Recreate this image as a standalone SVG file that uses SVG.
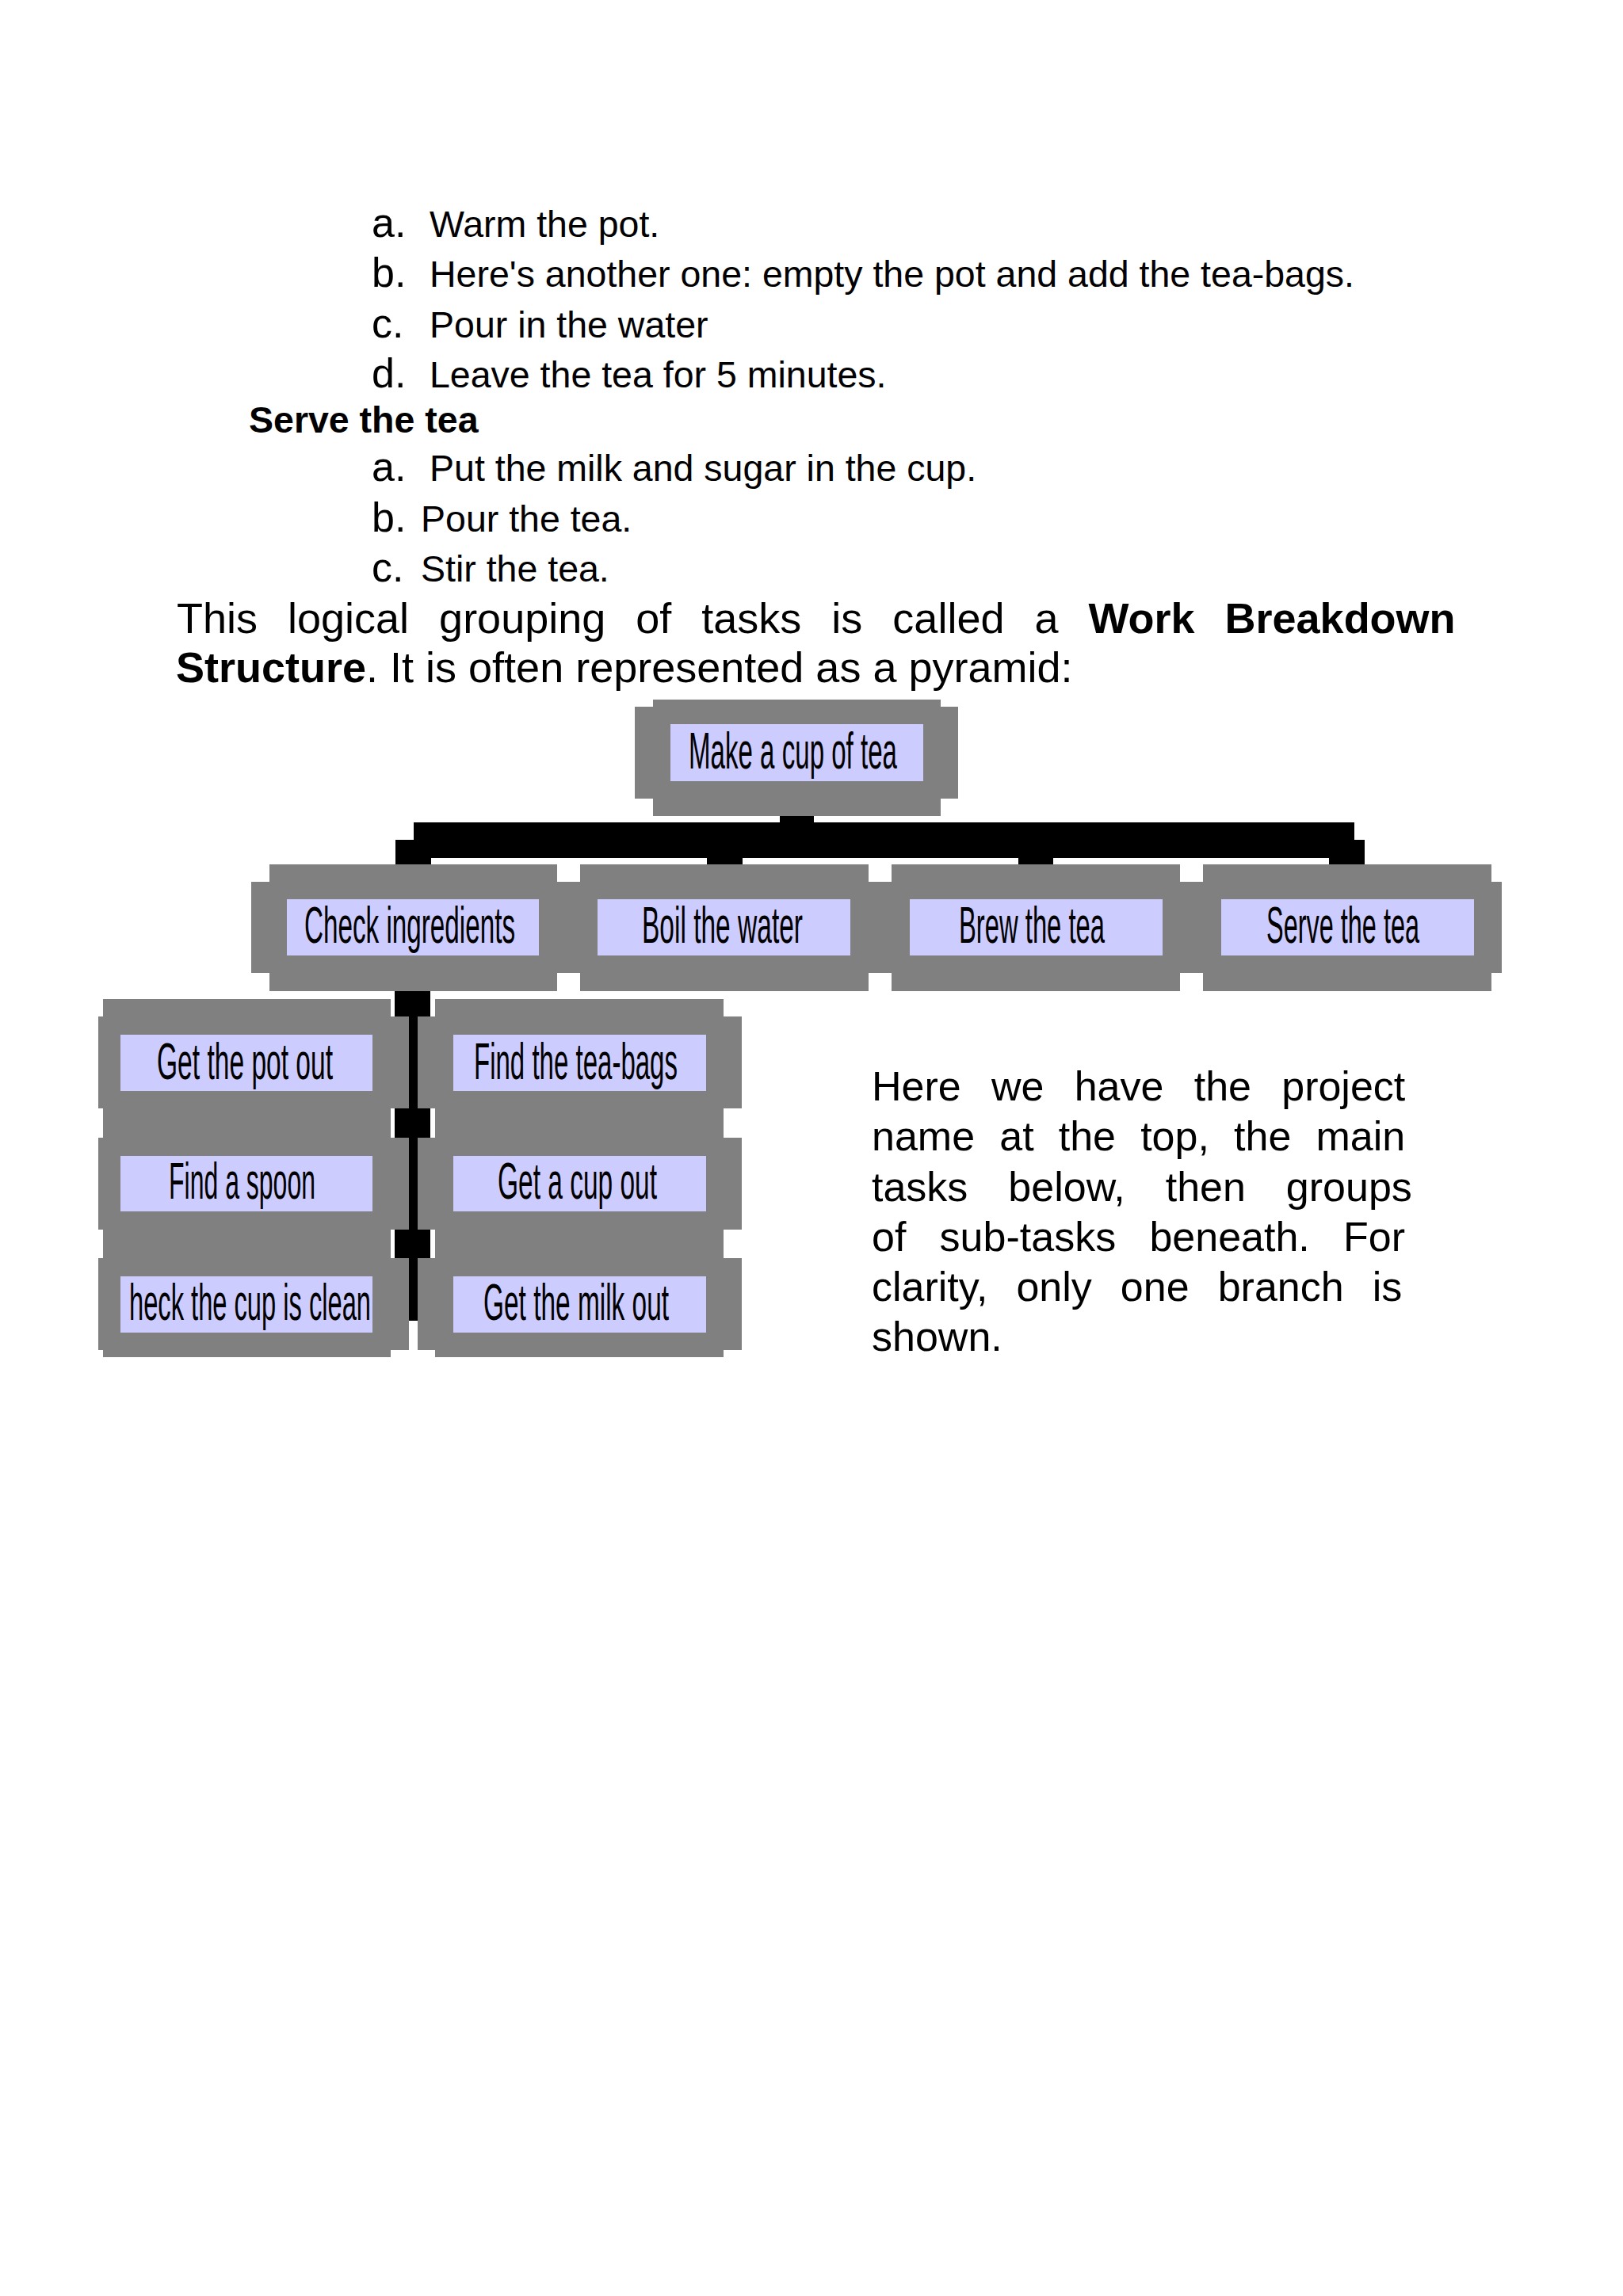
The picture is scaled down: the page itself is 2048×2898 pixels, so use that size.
<svg xmlns="http://www.w3.org/2000/svg" width="2048" height="2898" viewBox="0 0 2048 2898">
<style>
.t{font-family:"Liberation Sans",Arial,sans-serif;font-size:46.5px;fill:#000}
.m{font-family:"Liberation Sans",Arial,sans-serif;font-size:52px;fill:#000}
.p{font-family:"Liberation Sans",Arial,sans-serif;font-size:54px;fill:#000}
.b{font-weight:bold}
.g{fill:#808080}
.l{fill:#ccccff}
.n{font-family:"Liberation Sans Narrow","Liberation Sans",sans-serif;font-size:64px;fill:#000}
.c{fill:#000}
</style>
<rect width="2048" height="2898" fill="#fff"/>
<g id="text">
<text class="m" x="469" y="299">a.</text><text class="t" x="542" y="299">Warm the pot.</text>
<text class="m" x="469" y="362">b.</text><text class="t" x="542" y="362">Here's another one: empty the pot and add the tea-bags.</text>
<text class="m" x="469" y="426">c.</text><text class="t" x="542" y="426">Pour in the water</text>
<text class="m" x="469" y="489">d.</text><text class="t" x="542" y="489">Leave the tea for 5 minutes.</text>
<text class="t b" x="314" y="546">Serve the tea</text>
<text class="m" x="469" y="607">a.</text><text class="t" x="542" y="607">Put the milk and sugar in the cup.</text>
<text class="m" x="469" y="671">b.</text><text class="t" x="531" y="671">Pour the tea.</text>
<text class="m" x="469" y="734">c.</text><text class="t" x="531" y="734">Stir the tea.</text>
<text class="p" x="223" y="799" word-spacing="23">This logical grouping of tasks is called a <tspan class="b">Work Breakdown</tspan></text>
<text class="p" x="222" y="861"><tspan class="b">Structure</tspan>. It is often represented as a pyramid:</text>
</g>
<g id="connectors">
<rect class="c" x="984" y="1030" width="43" height="10"/>
<rect class="c" x="522" y="1038" width="1187" height="45"/>
<rect class="c" x="499" y="1060" width="45" height="31"/>
<rect class="c" x="892" y="1060" width="45" height="31"/>
<rect class="c" x="1285" y="1060" width="44" height="31"/>
<rect class="c" x="1677" y="1060" width="45" height="31"/>
<rect class="c" x="498" y="1250" width="45" height="33"/>
<rect class="c" x="516" y="1250" width="11" height="417"/>
<rect class="c" x="498" y="1399" width="45" height="37"/>
<rect class="c" x="498" y="1552" width="45" height="36"/>
</g>
<g id="n-top">
<rect class="g" x="824" y="883" width="363" height="147"/><rect class="g" x="801" y="892" width="408" height="116"/>
<rect class="l" x="846" y="914" width="319" height="72"/>
<text class="n" x="869" y="970" textLength="263" lengthAdjust="spacingAndGlyphs">Make a cup of tea</text>
</g>
<g id="n-check">
<rect class="g" x="340" y="1091" width="363" height="160"/><rect class="g" x="317" y="1113" width="409" height="115"/>
<rect class="l" x="362" y="1135" width="318" height="71"/>
<text class="n" x="384" y="1190" textLength="266" lengthAdjust="spacingAndGlyphs">Check ingredients</text>
</g>
<g id="n-boil">
<rect class="g" x="732" y="1091" width="364" height="160"/><rect class="g" x="709" y="1113" width="410" height="115"/>
<rect class="l" x="754" y="1135" width="319" height="71"/>
<text class="n" x="810" y="1190" textLength="203" lengthAdjust="spacingAndGlyphs">Boil the water</text>
</g>
<g id="n-brew">
<rect class="g" x="1125" y="1091" width="364" height="160"/><rect class="g" x="1102" y="1113" width="410" height="115"/>
<rect class="l" x="1148" y="1135" width="319" height="71"/>
<text class="n" x="1210" y="1190" textLength="184" lengthAdjust="spacingAndGlyphs">Brew the tea</text>
</g>
<g id="n-serve">
<rect class="g" x="1518" y="1091" width="364" height="160"/><rect class="g" x="1495" y="1113" width="400" height="115"/>
<rect class="l" x="1541" y="1135" width="319" height="71"/>
<text class="n" x="1598" y="1190" textLength="193" lengthAdjust="spacingAndGlyphs">Serve the tea</text>
</g>
<g id="n-pot">
<rect class="g" x="130" y="1261" width="363" height="150"/><rect class="g" x="124" y="1283" width="392" height="116"/>
<rect class="l" x="152" y="1306" width="318" height="71"/>
<text class="n" x="198" y="1362" textLength="222" lengthAdjust="spacingAndGlyphs">Get the pot out</text>
</g>
<g id="n-spoon">
<rect class="g" x="130" y="1411" width="363" height="152"/><rect class="g" x="124" y="1436" width="392" height="116"/>
<rect class="l" x="152" y="1459" width="318" height="70"/>
<text class="n" x="213" y="1513" textLength="185" lengthAdjust="spacingAndGlyphs">Find a spoon</text>
</g>
<g id="n-clean">
<rect class="g" x="130" y="1563" width="363" height="150"/><rect class="g" x="124" y="1588" width="392" height="116"/>
<rect class="l" x="152" y="1611" width="318" height="71"/>
<text class="n" x="163" y="1666" textLength="305" lengthAdjust="spacingAndGlyphs">heck the cup is clean</text>
</g>
<g id="n-bags">
<rect class="g" x="549" y="1261" width="364" height="150"/><rect class="g" x="527" y="1283" width="409" height="116"/>
<rect class="l" x="572" y="1306" width="319" height="71"/>
<text class="n" x="598" y="1362" textLength="257" lengthAdjust="spacingAndGlyphs">Find the tea-bags</text>
</g>
<g id="n-cup">
<rect class="g" x="549" y="1411" width="364" height="152"/><rect class="g" x="527" y="1436" width="409" height="116"/>
<rect class="l" x="572" y="1459" width="319" height="70"/>
<text class="n" x="628" y="1513" textLength="201" lengthAdjust="spacingAndGlyphs">Get a cup out</text>
</g>
<g id="n-milk">
<rect class="g" x="549" y="1563" width="364" height="150"/><rect class="g" x="527" y="1588" width="409" height="116"/>
<rect class="l" x="572" y="1611" width="319" height="71"/>
<text class="n" x="610" y="1666" textLength="234" lengthAdjust="spacingAndGlyphs">Get the milk out</text>
</g>
<g id="para">
<text class="m" x="1100" y="1389" word-spacing="23.8">Here we have the project</text>
<text class="m" x="1100" y="1452" word-spacing="16.7">name at the top, the main</text>
<text class="m" x="1100" y="1516" word-spacing="36.5">tasks below, then groups</text>
<text class="m" x="1100" y="1579" word-spacing="27.8">of sub-tasks beneath. For</text>
<text class="m" x="1100" y="1642" word-spacing="21.6">clarity, only one branch is</text>
<text class="m" x="1100" y="1705">shown.</text>
</g>
</svg>
